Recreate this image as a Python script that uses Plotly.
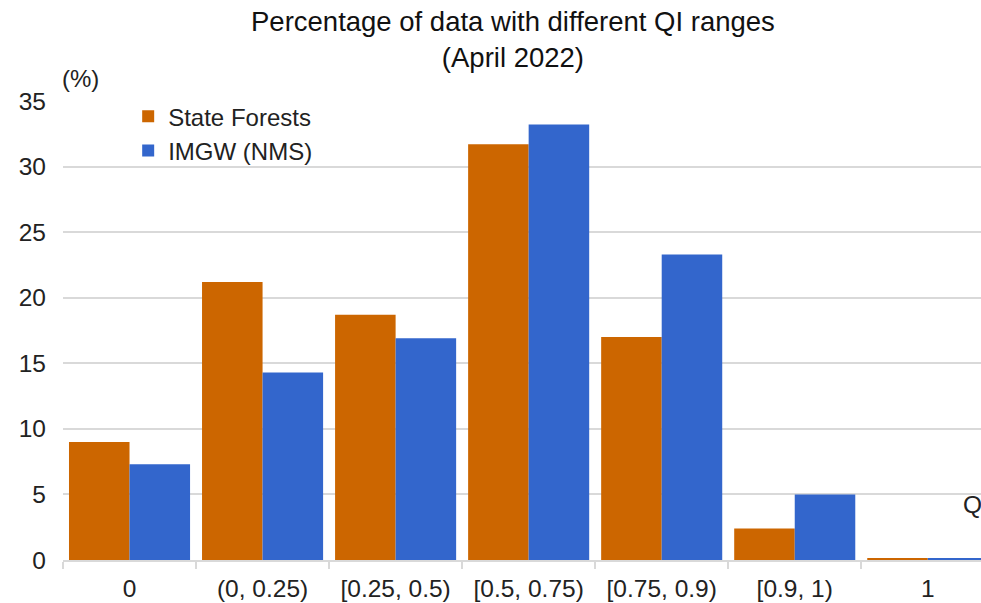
import plotly.graph_objects as go

categories = ["0", "(0, 0.25)", "[0.25, 0.5)", "[0.5, 0.75)", "[0.75, 0.9)", "[0.9, 1)", "1"]
state_forests = [9.0, 21.2, 18.7, 31.7, 17.0, 2.4, 0.1]
imgw = [7.3, 14.3, 16.9, 33.2, 23.3, 5.0, 0.1]

FONT = "Liberation Sans, Arial, sans-serif"

fig = go.Figure()
fig.add_trace(go.Bar(x=categories, y=state_forests, name="State Forests",
                     marker=dict(color="#CC6600", line=dict(width=0))))
fig.add_trace(go.Bar(x=categories, y=imgw, name="IMGW (NMS)",
                     marker=dict(color="#3366CC", line=dict(width=0))))

fig.update_layout(
    width=981, height=603,
    paper_bgcolor="white", plot_bgcolor="white",
    font=dict(family=FONT, size=24.5, color="#222222"),
    margin=dict(l=63, r=0, t=101, b=43, autoexpand=False),
    barmode="group", bargap=0.09, bargroupgap=0,
    legend=dict(x=0.071, y=1.015, xanchor="left", yanchor="top",
                bgcolor="rgba(0,0,0,0)", font=dict(size=24),
                itemwidth=30, tracegroupgap=0),
    showlegend=True,
)
fig.update_xaxes(
    range=[-0.5, 6.4], showgrid=False, showline=True, linecolor="#d9d9d9", linewidth=2,
    ticks="outside", tickson="boundaries", ticklen=7, tickcolor="#d9d9d9", tickwidth=2,
    ticklabelstandoff=6, tickfont=dict(size=24.5), fixedrange=True,
)
fig.update_yaxes(
    range=[0, 35], dtick=5, showgrid=True, gridcolor="#d9d9d9", gridwidth=2,
    zeroline=False, showline=False, ticks="", ticklabelstandoff=16,
    tickfont=dict(size=24.5), fixedrange=True,
)
fig.add_annotation(text="Percentage of data with different QI ranges<br>(April 2022)",
                   xref="paper", yref="paper", x=0.490, y=1.0,
                   xanchor="center", yanchor="bottom", yshift=26,
                   showarrow=False, font=dict(size=27.5, color="#111111"))
fig.add_annotation(text="(%)", xref="paper", yref="paper", x=0.019, y=1.0,
                   xanchor="center", yanchor="middle", yshift=23,
                   showarrow=False, font=dict(size=24))
fig.add_annotation(text="Q", xref="paper", yref="paper", x=0.978, y=0.12,
                   xanchor="left", yanchor="middle", showarrow=False,
                   font=dict(size=24.5))

fig.write_html("out.html", config={"displayModeBar": False},
               post_script="document.body.style.margin='0';")
